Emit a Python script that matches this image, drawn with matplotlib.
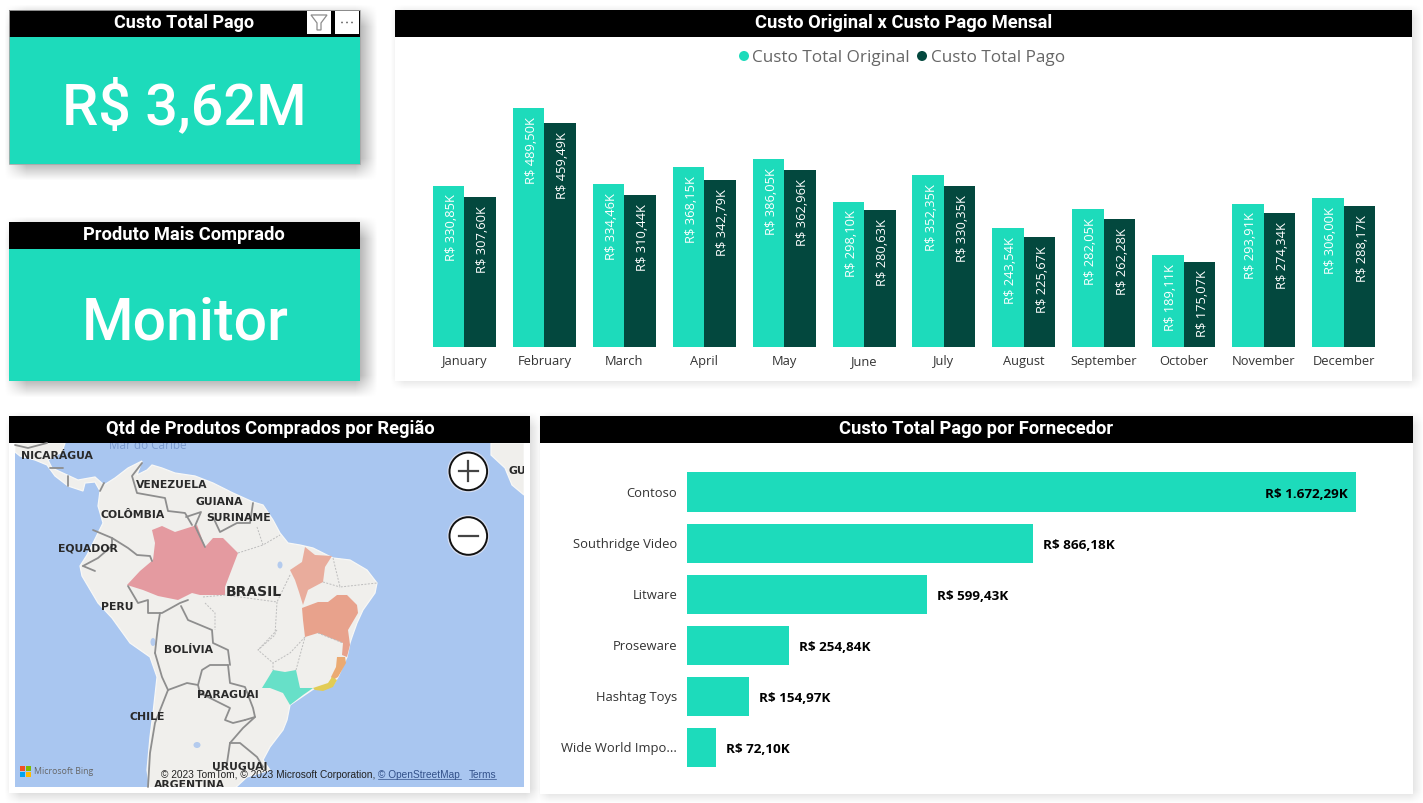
import numpy as np
import matplotlib
matplotlib.use("Agg")
import matplotlib.pyplot as plt
from matplotlib.patches import Rectangle, Polygon, Circle, Ellipse
from matplotlib.transforms import ScaledTranslation

W, H = 1423, 803
TEAL = "#1DDBBB"
DARK = "#03483E"
BODY = "Open Sans"
HEAD = "Roboto"
MAPFONT = "DejaVu Sans"

months = ["January", "February", "March", "April", "May", "June", "July",
          "August", "September", "October", "November", "December"]
custo_original = [330.85, 489.50, 334.46, 368.15, 386.05, 298.10, 352.35,
                  243.54, 282.05, 189.11, 293.91, 306.00]
custo_pago = [307.60, 459.49, 310.44, 342.79, 362.96, 280.63, 330.35,
              225.67, 262.28, 175.07, 274.34, 288.17]
fornecedores = ["Contoso", "Southridge Video", "Litware", "Proseware",
                "Hashtag Toys", "Wide World Impo..."]
custo_fornecedor = [1672.29, 866.18, 599.43, 254.84, 154.97, 72.10]


def fmt(v):
    s = f"{v:,.2f}".replace(",", "#").replace(".", ",").replace("#", ".")
    return f"R$ {s}K"


fig = plt.figure(figsize=((W + .02) / 100, (H + .02) / 100), dpi=100, facecolor="white")
bg = fig.add_axes([0, 0, 1, 1])
bg.set_xlim(0, W)
bg.set_ylim(H, 0)
bg.axis("off")

# ---- shadows
yy, xx = np.mgrid[0:H, 0:W]


def shadow(x0, y0, x1, y1, off, blur, strength):
    ax_ = np.clip((xx - (x0 + off - blur)) / (2 * blur), 0, 1) * np.clip(((x1 + off + blur) - xx) / (2 * blur), 0, 1)
    ay_ = np.clip((yy - (y0 + off - blur)) / (2 * blur), 0, 1) * np.clip(((y1 + off + blur) - yy) / (2 * blur), 0, 1)
    return strength * ax_ * ay_


alpha = np.zeros((H, W))
for r, o, b, s in [((9, 10, 360, 164), 6, 11, .36), ((9, 222, 360, 381), 6, 11, .36),
                   ((395, 10, 1412, 381), 2, 7, .14), ((9, 416, 530, 793), 3, 8, .18),
                   ((540, 416, 1413, 794), 2, 7, .14)]:
    alpha = np.maximum(alpha, shadow(*r, o, b, s))
img = np.zeros((H, W, 4))
img[..., 3] = alpha
bg.imshow(img, extent=(0, W, H, 0), aspect="auto", zorder=0, interpolation="nearest")
bg.set_xlim(0, W)
bg.set_ylim(H, 0)


def panel(x0, y0, x1, y1, title, fill="white", hh=27, tx=None, size=13.2):
    bg.add_patch(Rectangle((x0, y0), x1 - x0, y1 - y0, fc=fill, ec="none", zorder=1))
    bg.add_patch(Rectangle((x0, y0), x1 - x0, hh, fc="black", ec="none", zorder=2))
    bg.text(tx if tx else (x0 + x1) / 2, y0 + hh / 2 - .5, title, color="white", ha="center", va="center",
            fontsize=size, fontweight="bold", family=HEAD, zorder=3)


panel(9, 10, 360, 164, "Custo Total Pago", fill=TEAL, tx=184, size=13)
panel(9, 222, 360, 381, "Produto Mais Comprado", fill=TEAL, tx=184)
panel(395, 10, 1412, 381, "Custo Original x Custo Pago Mensal", tx=904)
panel(9, 416, 530, 793, "Qtd de Produtos Comprados por Região", tx=270)
panel(540, 416, 1413, 794, "Custo Total Pago por Fornecedor", tx=976.5)
bg.add_patch(Rectangle((9, 10), 351, 154, fc="none", ec="#A8A8A8", lw=.6, zorder=3))

bg.text(184.5, 108, "R$ 3,62M", color="white", ha="center", va="center", fontsize=41.5, family=HEAD, fontweight="medium", zorder=3)
bg.text(185, 323, "Monitor", color="white", ha="center", va="center", fontsize=42.5, family=HEAD, fontweight="medium", zorder=3)

# filter and menu buttons
bg.add_patch(Rectangle((307, 11), 24, 23, fc="white", ec="none", zorder=4))
bg.add_patch(Rectangle((335, 11), 24, 23, fc="white", ec="none", zorder=4))
bg.add_patch(Polygon([(311, 15), (327, 15), (321, 23), (321, 30), (317, 30), (317, 23)], closed=True,
                     fc="white", ec="#8c8c8c", lw=.9, zorder=5))
for dx in (342, 347, 352):
    bg.add_patch(Circle((dx, 22.5), .9, fc="#666666", ec="none", zorder=5))

# ---- monthly chart
ax = fig.add_axes([424.5 / W, 1 - 347 / H, 959 / W, 244 / H])
ax.patch.set_alpha(0)
x = np.arange(len(months))
bw = .394
b1 = ax.bar(x - bw / 2, custo_original, bw, color=TEAL)
b2 = ax.bar(x + bw / 2, custo_pago, bw, color=DARK)
for bars, vals in ((b1, custo_original), (b2, custo_pago)):
    for rect, v in zip(bars, vals):
        ax.annotate(fmt(v), (rect.get_x() + rect.get_width() / 2, v), xytext=(2, -6.5), textcoords="offset points",
                    ha="center", va="top", rotation=90, color="white", fontsize=9.3, family=BODY)
ax.set_xlim(-.5, 11.5)
ax.set_ylim(0, 500)
ax.set_xticks(x, months, fontsize=9.3, family=BODY, color="#333333", va="baseline")
ax.set_yticks([])
ax.tick_params(axis="x", length=0, pad=13)
for s in ax.spines.values():
    s.set_visible(False)

# legend
bg.add_patch(Circle((744, 56), 5, fc=TEAL, ec="none", zorder=3))
bg.add_patch(Circle((922, 56), 5, fc=DARK, ec="none", zorder=3))
bg.text(752, 58, "Custo Total Original", color="#666666", fontsize=12.3, family=BODY, va="center", zorder=3)
bg.text(931, 58, "Custo Total Pago", color="#666666", fontsize=12.3, family=BODY, va="center", zorder=3)

# ---- supplier chart
ax2 = fig.add_axes([687 / W, 1 - 773 / H, 700 / W, 306 / H])
ax2.patch.set_alpha(0)
ypos = np.arange(len(fornecedores))
bars = ax2.barh(ypos, custo_fornecedor, .784, color=TEAL)
ax2.set_xlim(0, 1750)
ax2.set_ylim(5.5, -.5)
ax2.set_yticks(ypos, fornecedores, fontsize=9.4, family=BODY, color="#333333")
ax2.set_xticks([])
ax2.tick_params(axis="y", length=0, pad=7)
up = ScaledTranslation(0, 1 / 100, fig.dpi_scale_trans)
for lab in ax2.get_yticklabels():
    lab.set_transform(lab.get_transform() + up)
for s in ax2.spines.values():
    s.set_visible(False)
for i, v in enumerate(custo_fornecedor):
    inside = i == 0
    ax2.annotate(fmt(v), (v, i), xytext=(-6 if inside else 7, -1.5), textcoords="offset points",
                 ha="right" if inside else "left", va="center", color="black",
                 fontsize=9.7, fontweight="bold", family=BODY)

# ---- map backdrop: a sketch of the basemap, in picture pixels
MX0, MY0, MX1, MY1 = 15, 443, 524, 787
clip = Rectangle((MX0, MY0), MX1 - MX0, MY1 - MY0, transform=bg.transData)
bg.add_patch(Rectangle((MX0, MY0), MX1 - MX0, MY1 - MY0, fc="#A9C6F0", ec="none", zorder=3))

land = [(15, 443), (65, 443), (62, 452), (48, 460), (52, 468), (65, 474), (78, 480), (95, 477), (104, 485), (115, 478),
        (128, 468), (142, 461), (137, 475), (147, 470), (152, 465), (162, 468), (175, 473), (195, 476), (213, 483),
        (233, 493), (253, 502), (263, 505), (273, 520), (280, 533), (288, 543), (300, 545), (313, 548), (333, 558),
        (350, 560), (367, 570), (377, 583), (375, 593), (363, 610), (357, 623), (352, 637), (350, 643), (347, 657),
        (338, 677), (333, 685), (315, 688), (290, 705), (287, 720), (283, 730), (270, 747), (263, 760), (270, 770),
        (247, 777), (233, 790), (150, 790), (147, 770), (150, 737), (153, 713), (157, 677), (150, 657), (130, 643),
        (112, 618), (98, 603), (82, 576), (80, 566), (87, 555), (98, 533), (103, 523), (98, 506), (100, 491), (95, 482),
        (85, 483), (83, 491), (68, 486), (55, 476), (47, 465), (35, 460), (20, 456), (15, 452)]
land2 = [(491, 443), (524, 443), (524, 495), (512, 485), (505, 468), (491, 455)]
for poly in (land, land2):
    p = Polygon(poly, closed=True, fc="#F0EFEC", ec="#F8F8F6", lw=.9, zorder=4)
    bg.add_patch(p)
    p.set_clip_path(clip)
for (ex, ey, ew, eh) in [(153, 642, 5, 8), (197, 745, 7, 6), (280, 565, 5, 7)]:
    bg.add_patch(Ellipse((ex, ey), ew, eh, fc="#B4CBEE", ec="none", zorder=4))

regions = [
    ("#E49AA0", [(152, 530), (162, 526), (175, 532), (197, 525), (205, 547), (213, 538), (223, 538), (238, 553),
                 (225, 587), (225, 595), (200, 595), (192, 593), (178, 600), (158, 596), (143, 590), (127, 585),
                 (140, 571), (153, 560), (155, 543)]),
    ("#E9AC9C", [(305, 547), (315, 555), (332, 556), (325, 567), (323, 582), (308, 590), (303, 605), (299, 592),
                 (295, 580), (290, 570), (302, 562)]),
    ("#E8A28C", [(302, 608), (318, 602), (328, 602), (337, 595), (347, 595), (357, 605), (358, 613), (348, 630),
                 (350, 645), (347, 657), (342, 655), (343, 643), (318, 633), (305, 637), (303, 620)]),
    ("#EBAA72", [(337, 657), (345, 657), (346, 663), (338, 677), (333, 680), (331, 677), (336, 667)]),
    ("#E2CC55", [(313, 688), (328, 683), (332, 677), (337, 680), (333, 687), (323, 691), (315, 690)]),
    ("#67E0C8", [(262, 688), (273, 670), (285, 672), (296, 670), (300, 688), (313, 688), (303, 695), (290, 705),
                 (283, 693), (270, 688)]),
]
for col, poly in regions:
    bg.add_patch(Polygon(poly, closed=True, fc=col, ec="none", zorder=5))

borders = [
    [(142, 463), (132, 476), (137, 493), (165, 498), (168, 511), (185, 513), (192, 525)],
    [(186, 517), (201, 512), (195, 526), (205, 547)],
    [(213, 517), (220, 532), (237, 523), (250, 523), (253, 503)],
    [(93, 530), (112, 538), (128, 548), (137, 555), (150, 556), (152, 561)],
    [(83, 566), (98, 558), (112, 546), (112, 538)],
    [(83, 566), (95, 571)],
    [(128, 586), (138, 603), (148, 600), (148, 613), (162, 613), (180, 603), (188, 600)],
    [(160, 613), (158, 625), (155, 653)],
    [(155, 653), (162, 677), (168, 690)],
    [(168, 690), (187, 683), (198, 685)],
    [(198, 685), (202, 670), (210, 665), (228, 665)],
    [(181, 606), (188, 620), (212, 630), (213, 643), (228, 650), (230, 665)],
    [(228, 665), (230, 683), (245, 687), (253, 708), (255, 717), (245, 720)],
    [(198, 685), (200, 693), (230, 708), (225, 720), (233, 723), (245, 720)],
    [(255, 717), (243, 728), (230, 743)],
    [(230, 743), (227, 763)],
    [(230, 743), (240, 743), (257, 757), (263, 767)],
    [(168, 690), (155, 723), (150, 753), (148, 787)],
    [(50, 468), (63, 468)], [(68, 476), (68, 486)], [(100, 491), (104, 483)],
    [(15, 445), (28, 448), (47, 443)],
]
for b in borders:
    a = np.asarray(b, float)
    bg.plot(a[:, 0], a[:, 1], color="#8E8E8E", lw=1.3, zorder=6, solid_capstyle="round")

states = [
    [(205, 603), (215, 613), (215, 630)], [(203, 597), (225, 595), (277, 602)],
    [(277, 602), (275, 635), (258, 650), (273, 663), (273, 670)],
    [(290, 575), (277, 602)], [(305, 637), (290, 653), (273, 663)], [(277, 630), (258, 650)],
    [(333, 558), (340, 587), (377, 583)], [(257, 527), (263, 545), (280, 535)], [(238, 553), (263, 545)],
    [(296, 670), (305, 637)], [(318, 633), (343, 643)], [(323, 582), (340, 587)],
]
for b in states:
    a = np.asarray(b, float)
    bg.plot(a[:, 0], a[:, 1], color="#BDBDBD", lw=.7, ls=(0, (2, 1.5)), zorder=6)

map_labels = [("NICARÁGUA", 57, 455.5), ("VENEZUELA", 172, 484.5), ("GUIANA", 219, 501.5), ("COLÔMBIA", 133, 514.5),
              ("SURINAME", 239, 517.5), ("EQUADOR", 88, 548.5), ("PERU", 117, 606.5), ("BOLÍVIA", 188, 649.5),
              ("PARAGUAI", 228, 694.5), ("CHILE", 147, 716.5), ("URUGUAI", 240, 767), ("ARGENTINA", 190, 784.5),
              ("GU", 517, 471)]
for t, lx, ly in map_labels:
    tt = bg.text(lx, ly, t, color="#2A2A2A", ha="center", va="center", fontsize=7.8, family=MAPFONT,
                 fontweight="bold", zorder=7, clip_on=True)
    tt.set_clip_path(clip)
tt = bg.text(148, 445, "Mar do Caribe", color="#7C9BD0", ha="center", va="center", fontsize=8.5, family=BODY, zorder=7, clip_on=True)
tt.set_clip_path(clip)
bg.text(254, 592, "BRASIL", color="#2A2A2A", ha="center", va="center", fontsize=10, fontweight="bold", family=MAPFONT, zorder=7)

# zoom controls
for cy, minus in ((471.4, False), (536, True)):
    bg.add_patch(Circle((468.3, cy), 21, fc="#D5DDF0", ec="none", zorder=8))
    bg.add_patch(Circle((468.3, cy), 18.8, fc="white", ec="#111111", lw=1.4, zorder=8))
    bg.plot([458.5, 478], [cy, cy], color="#444444", lw=1.6, zorder=9)
    if not minus:
        bg.plot([468.3, 468.3], [cy - 10, cy + 10], color="#444444", lw=1.6, zorder=9)

# Bing logo and attribution
for (qx, qy, qc) in [(20, 766, "#F25022"), (26, 766, "#7FBA00"), (20, 772, "#00A4EF"), (26, 772, "#FFB900")]:
    bg.add_patch(Rectangle((qx, qy), 5.4, 5.4, fc=qc, ec="none", zorder=8))
bg.text(34, 771.5, "Microsoft Bing", color="#666666", fontsize=6.3, va="center", family=BODY, zorder=8)
bg.text(161, 774.5, "© 2023 TomTom, © 2023 Microsoft Corporation,", color="#222222", fontsize=7.3, va="center",
        family="Liberation Sans", zorder=8)
bg.text(378, 774.5, "© OpenStreetMap", color="#33518A", fontsize=7.3, va="center", family="Liberation Sans", zorder=8)
bg.text(469, 774.5, "Terms", color="#33518A", fontsize=7.3, va="center", family="Liberation Sans", zorder=8)
bg.plot([378, 461], [779.5, 779.5], color="#33518A", lw=.5, zorder=8)
bg.plot([469, 496], [779.5, 779.5], color="#33518A", lw=.5, zorder=8)

fig.savefig("out.png", dpi=100)
